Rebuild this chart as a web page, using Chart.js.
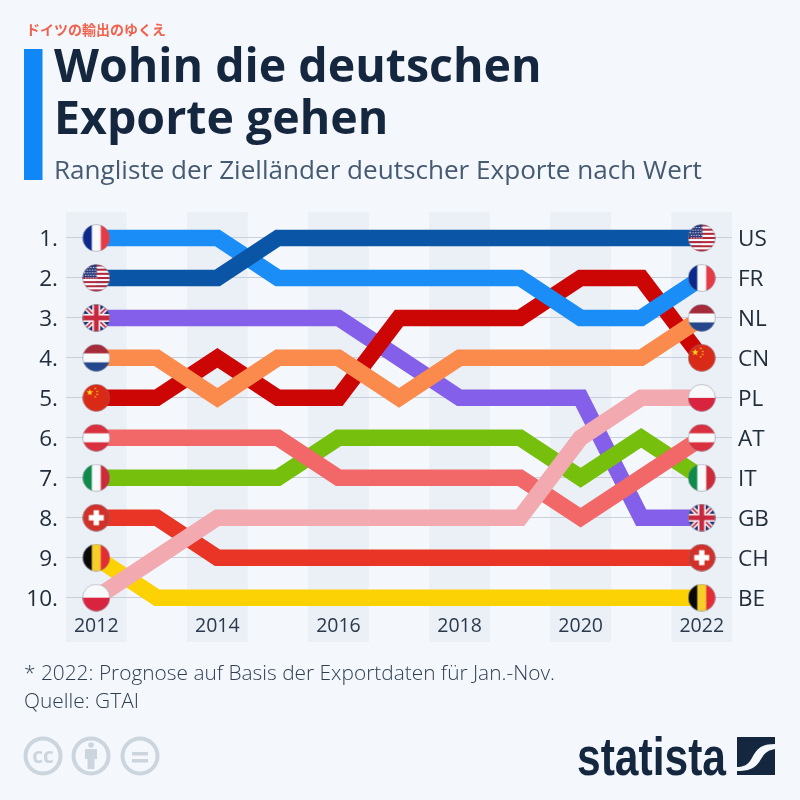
<!DOCTYPE html>
<html><head><meta charset="utf-8">
<script src="https://cdn.jsdelivr.net/npm/chart.js@4"></script>
<style>
html,body{margin:0;padding:0;background:#f4f7fb;width:800px;height:800px;overflow:hidden}
#wrap{position:relative;width:800px;height:800px}
canvas{position:absolute;left:0;top:0}
svg{position:absolute;left:0;top:0}
</style></head><body>
<div id="wrap">
<canvas id="c" width="800" height="800"></canvas>
<svg width="800" height="800" viewBox="0 0 800 800" xmlns="http://www.w3.org/2000/svg">
<text x="26" y="35" font-family="'Noto Sans CJK JP'" font-weight="700" font-size="14" fill="#f0634f">ドイツの輸出のゆくえ</text>
<rect x="24" y="49" width="18.5" height="131" fill="#0f87f7"/>
<text x="54" y="82" font-family="'Open Sans'" font-weight="700" font-size="46.5" fill="#15263f">Wohin die deutschen</text>
<text x="54" y="134" font-family="'Open Sans'" font-weight="700" font-size="46.5" fill="#15263f">Exporte gehen</text>
<text x="54" y="179" font-family="'Open Sans'" font-size="26.1" fill="#465a72">Rangliste der Zielländer deutscher Exporte nach Wert</text>
<text x="24" y="680" font-family="'Open Sans'" font-weight="300" font-size="20.2" fill="#2f3f52" textLength="531" lengthAdjust="spacingAndGlyphs">* 2022: Prognose auf Basis der Exportdaten für Jan.-Nov.</text>
<text x="24" y="708" font-family="'Open Sans'" font-weight="300" font-size="20.2" fill="#2f3f52" textLength="115" lengthAdjust="spacingAndGlyphs">Quelle: GTAI</text>
<g fill="none" stroke="#ccd5dd" stroke-width="4">
<circle cx="43" cy="756" r="17.5"/><circle cx="91" cy="756" r="17.5"/><circle cx="140" cy="756" r="17.5"/>
</g>
<text x="43" y="763" text-anchor="middle" font-family="'Open Sans'" font-weight="700" font-size="21" fill="#ccd5dd">cc</text>
<g fill="#ccd5dd">
<circle cx="91" cy="745" r="2.8"/><rect x="85" y="749" width="12" height="10"/><rect x="87.5" y="757" width="7" height="12"/>
<rect x="132" y="752" width="16" height="3.5"/><rect x="132" y="759" width="16" height="3.5"/>
</g>
<text x="577" y="775" font-family="'Liberation Sans Narrow','Liberation Sans'" font-weight="700" font-size="54" fill="#15263f" textLength="149" lengthAdjust="spacingAndGlyphs">statista</text>
<path fill="#15263f" d="M737 737H775V744C764 744 758 747 753 756C749 764 745 767 737 767Z"/>
<path fill="#15263f" d="M775 749V775H737V771C750 771 756 768 761 759C765 752 769 750 775 749Z"/>
</svg>
</div>
<script>
const years = ['2012','2013','2014','2015','2016','2017','2018','2019','2020','2021','2022'];
const rankLabels = ['1.','2.','3.','4.','5.','6.','7.','8.','9.','10.'];
const rightLabels = ['US','FR','NL','CN','PL','AT','IT','GB','CH','BE'];

const US = [2,2,2,1,1,1,1,1,1,1,1];
const FR = [1,1,1,2,2,2,2,2,3,3,2];
const NL = [4,4,5,4,4,5,4,4,4,4,3];
const CN = [5,5,4,5,5,3,3,3,2,2,4];
const PL = [10,9,8,8,8,8,8,8,6,5,5];
const AT = [6,6,6,6,7,7,7,7,8,7,6];
const IT = [7,7,7,7,6,6,6,6,7,6,7];
const GB = [3,3,3,3,3,4,5,5,5,8,8];
const CH = [8,8,9,9,9,9,9,9,9,9,9];
const BE = [9,10,10,10,10,10,10,10,10,10,10];

// front to back: Chart.js paints dataset 0 last
const seriesNames = ['US','FR','NL','CN','PL','AT','IT','GB','CH','BE'];
const seriesValues = [US,FR,NL,CN,PL,AT,IT,GB,CH,BE];
const seriesColors = ['#0b55a6','#1a8df6','#fb8b4c','#cc0505','#f2a9b0','#f26868','#76bf0c','#8460ea','#e83526','#fdd205'];

const S = 28, R = 13.5;
function vbands(g, cols){ const w = 2*R/cols.length; cols.forEach((c,i)=>{g.fillStyle=c; g.fillRect(S/2-R+i*w,0,w+.5,S);}); }
function hbands(g, cols){ const h = 2*R/cols.length; cols.forEach((c,i)=>{g.fillStyle=c; g.fillRect(0,S/2-R+i*h,S,h+.5);}); }
function star(g,x,y,r,c){ g.fillStyle=c; g.beginPath(); for(let i=0;i<10;i++){const a=-Math.PI/2+i*Math.PI/5,q=i%2?r*.4:r; g.lineTo(x+q*Math.cos(a),y+q*Math.sin(a));} g.closePath(); g.fill(); }
const painters = {
  FR:g=>vbands(g,['#0b2a8c','#f8f9fb','#e63b47']),
  NL:g=>hbands(g,['#a62b3a','#f8f9fb','#25478c']),
  AT:g=>{hbands(g,['#d8303f','#f8f9fb','#d8303f']);},
  PL:g=>hbands(g,['#f8f9fb','#d8243f']),
  IT:g=>vbands(g,['#0f8a4a','#f8f9fb','#cd2b3a']),
  BE:g=>vbands(g,['#0a0a0a','#f6cf2a','#e32c36']),
  CN:g=>{g.fillStyle='#d92a18';g.fillRect(0,0,S,S);star(g,7.5,8.5,3.6,'#f9d616');[[13,4.5],[15,7.5],[15,10.5],[13,13]].forEach(p=>star(g,p[0],p[1],1.2,'#f9d616'));},
  CH:g=>{g.fillStyle='#d0312a';g.fillRect(0,0,S,S);g.fillStyle='#fff';g.fillRect(S/2-7.5,S/2-2.7,15,5.4);g.fillRect(S/2-2.7,S/2-7.5,5.4,15);},
  US:g=>{for(let i=0;i<13;i++){g.fillStyle=i%2?'#f8f9fb':'#b4283c';g.fillRect(0,S/2-R+i*27/13,S,27/13+.3);}
    g.fillStyle='#2a3a7a';g.fillRect(0,0,S/2+.5,S/2-.5);g.fillStyle='#eef';for(let y=3;y<14;y+=2.6)for(let x=2+(Math.round(y)%2);x<14;x+=2.6){g.fillRect(x,y,1.1,1.1);}},
  GB:g=>{g.fillStyle='#1d2f6b';g.fillRect(0,0,S,S);
    g.lineWidth=5;g.strokeStyle='#f3f4f8';g.beginPath();g.moveTo(0,0);g.lineTo(S,S);g.moveTo(S,0);g.lineTo(0,S);g.stroke();
    g.lineWidth=1.6;g.strokeStyle='#c8283e';g.beginPath();g.moveTo(0,0);g.lineTo(S,S);g.moveTo(S,0);g.lineTo(0,S);g.stroke();
    g.fillStyle='#f3f4f8';g.fillRect(0,S/2-4,S,8);g.fillRect(S/2-4,0,8,S);
    g.fillStyle='#c8283e';g.fillRect(0,S/2-2.4,S,4.8);g.fillRect(S/2-2.4,0,4.8,S);}
};
function flag(code){
  const cv=document.createElement('canvas');cv.width=S;cv.height=S;const g=cv.getContext('2d');
  g.save();g.beginPath();g.arc(S/2,S/2,R,0,Math.PI*2);g.clip();painters[code](g);g.restore();
  g.strokeStyle='rgba(120,130,145,.55)';g.lineWidth=.8;g.beginPath();g.arc(S/2,S/2,R,0,Math.PI*2);g.stroke();
  return cv;
}
const lastIndex = years.length-1;
const flagSets = seriesNames.map((n,k)=>({
  label:n+' flag', data:seriesValues[k].map((v,i)=>(i===0||i===lastIndex)?v:null),
  showLine:false, pointStyle:flag(n), pointRadius:14, pointBorderWidth:0, pointHoverRadius:14, clip:false
}));
const lineSets = seriesNames.map((n,k)=>({
  label:n, data:seriesValues[k], borderColor:seriesColors[k], backgroundColor:seriesColors[k],
  borderWidth:16.5, pointRadius:0, tension:0, fill:false, borderJoinStyle:'miter', borderCapStyle:'butt', clip:false
}));

const bands = { id:'bands', beforeDraw(chart){
  const {ctx,chartArea:a,scales:{x}} = chart; const step = x.getPixelForValue(1)-x.getPixelForValue(0);
  ctx.save(); ctx.fillStyle='#ebeff6';
  years.forEach((y,i)=>{ if(i%2===0){ ctx.fillRect(x.getPixelForValue(i)-step/2,a.top,step,a.bottom-a.top);} });
  ctx.restore();
}};
const rankTicks = s => { s.ticks = rankLabels.map((l,i)=>({value:i+1})); };
const yBase = { min:0.35, max:11.11, reverse:true, border:{display:false}, afterBuildTicks:rankTicks };
// a blank first line of 4px moves the single label 2px down, onto the rank line's optical centre
const tickFont = { family:'Open Sans', size:22.5, lineHeight:'4px' };

new Chart(document.getElementById('c'),{
  type:'line',
  data:{ labels:years, datasets:[...flagSets,...lineSets] },
  plugins:[bands],
  options:{
    responsive:false, animation:false, events:[],
    layout:{ padding:{top:212,left:0,right:0,bottom:0} },
    plugins:{ legend:{display:false}, tooltip:{enabled:false}, title:{display:false} },
    scales:{
      x:{ type:'category', offset:true, border:{display:false}, grid:{display:false},
          afterFit:s=>{s.height=158;},
          ticks:{ autoSkip:false, maxRotation:0, mirror:true, padding:4, color:'#2a3a4c', font:{family:'Open Sans',size:19.5},
                  callback:(v,i)=>i%2===0?years[i]:'' } },
      y:{ ...yBase, position:'left', afterFit:s=>{s.width=66;},
          grid:{ color:'#c8d0dc', lineWidth:1, drawTicks:false },
          ticks:{ padding:8, color:'#222e3c', font:tickFont, callback:v=>['',rankLabels[v-1]] } },
      y2:{ ...yBase, position:'right', afterFit:s=>{s.width=68;},
          grid:{ display:false, drawTicks:false },
          ticks:{ padding:6, color:'#222e3c', font:tickFont, callback:v=>['',rightLabels[v-1]] } }
    }
  }
});
</script>
</body></html>
